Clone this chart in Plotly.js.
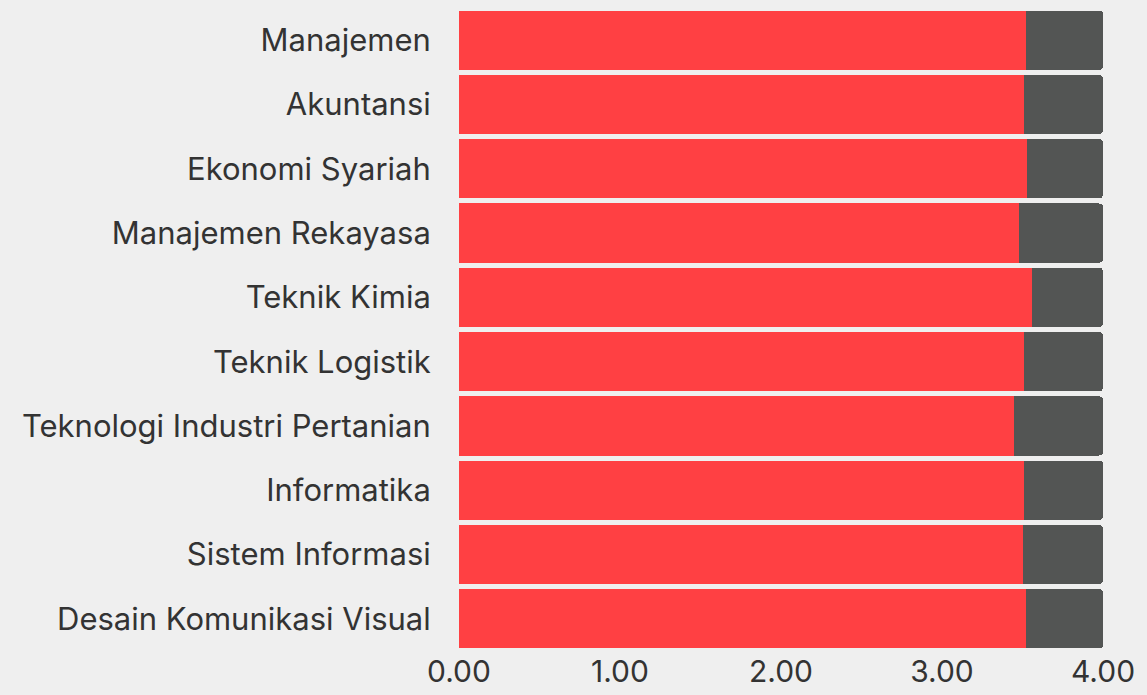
<!DOCTYPE html>
<html>
<head>
<meta charset="utf-8">
<script src="https://cdn.plot.ly/plotly-3.0.1.min.js"></script>
<style>html,body{margin:0;padding:0;background:#efefef;}#chart{width:1147px;height:695px;}</style>
</head>
<body>
<div id="chart"></div>
<script>
const categories = ["Manajemen","Akuntansi","Ekonomi Syariah","Manajemen Rekayasa","Teknik Kimia","Teknik Logistik","Teknologi Industri Pertanian","Informatika","Sistem Informasi","Desain Komunikasi Visual"];
const scores = [3.52,3.51,3.53,3.48,3.56,3.51,3.45,3.51,3.50,3.52];
const maxScore = 4.00;
const remainder = scores.map(v => +(maxScore - v).toFixed(2));
const tickVals = [0,1,2,3,4];
const tickText = ["0.00","1.00","2.00","3.00","4.00"];

const font = "Inter, 'Open Sans', sans-serif";
Plotly.newPlot("chart", [
  {type:"bar", orientation:"h", y:categories, x:scores, marker:{color:"#ff4043"}, hoverinfo:"x+y"},
  {type:"bar", orientation:"h", y:categories, x:remainder, marker:{color:"#535554"}, hoverinfo:"x+y"}
], {
  width:1147, height:695,
  barmode:"stack", bargap:0.08, barcornerradius:4,
  showlegend:false,
  paper_bgcolor:"#efefef", plot_bgcolor:"#efefef",
  margin:{l:459, r:44, t:8, b:44},
  font:{family:font, color:"#333333", size:31},
  xaxis:{range:[0,4], tickvals:tickVals, ticktext:tickText, showgrid:false, zeroline:false, showline:false, ticks:"", tickfont:{size:30, color:"#333"}, fixedrange:true},
  yaxis:{autorange:"reversed", showgrid:false, zeroline:false, showline:false, ticks:"outside", ticklen:21, tickcolor:"rgba(0,0,0,0)", tickfont:{size:31, color:"#333"}, fixedrange:true}
}, {displayModeBar:false, staticPlot:true});
</script>
</body>
</html>
